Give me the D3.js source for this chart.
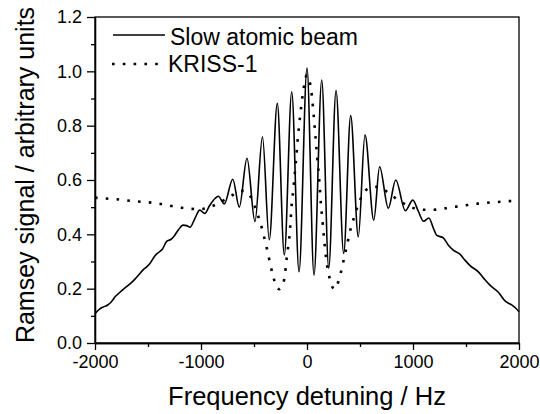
<!DOCTYPE html>
<html>
<head>
<meta charset="utf-8">
<script src="https://cdn.jsdelivr.net/npm/d3@7"></script>
<style>
  html, body { margin: 0; padding: 0; background: #fff; }
  svg { display: block; }
  text { font-family: "Liberation Sans", Arial, sans-serif; fill: #000; }
</style>
</head>
<body>
<svg id="chart" width="540" height="414"></svg>
<script>
// ---- data ----
const xTicks = [-2000, -1000, 0, 1000, 2000];
const xMinorTicks = [-1500, -500, 500, 1500];
const yTicks = [0, 0.2, 0.4, 0.6, 0.8, 1.0, 1.2];
const yMinorTicks = [0.1, 0.3, 0.5, 0.7, 0.9, 1.1];
const seriesNames = ["Slow atomic beam", "KRISS-1"];
const xTitle = "Frequency detuning / Hz";
const yTitle = "Ramsey signal / arbitrary units";

// Slow atomic beam: [detuning Hz, signal]
const slowBeam = [
  [-2000,0.108],[-1960,0.124],[-1920,0.133],[-1880,0.140],[-1845,0.152],[-1811,0.170],
  [-1770,0.185],[-1717,0.203],[-1670,0.218],[-1623,0.235],[-1585,0.252],[-1544,0.270],
  [-1510,0.281],[-1480,0.294],[-1434,0.321],[-1395,0.335],[-1365,0.345],[-1324,0.374],
  [-1285,0.381],[-1260,0.390],[-1214,0.416],[-1170,0.434],[-1135,0.432],[-1104,0.426],
  [-1057,0.459],[-1012,0.489],[-965,0.477],[-920,0.505],[-868,0.532],[-837,0.540],
  [-780,0.512],[-700,0.603],[-639,0.500],[-566,0.680],[-491,0.447],[-420,0.759],
  [-356,0.380],[-280,0.882],[-214,0.324],[-144,0.925],[-75,0.262],[0,1.012],
  [66,0.250],[139,0.968],[205,0.275],[274,0.929],[346,0.330],[412,0.837],
  [484,0.391],[547,0.766],[630,0.452],[685,0.649],[767,0.496],[837,0.600],
  [928,0.487],[998,0.526],[1050,0.485],[1100,0.448],[1150,0.460],[1190,0.425],
  [1225,0.396],[1286,0.387],[1330,0.362],[1380,0.342],[1443,0.327],[1490,0.305],
  [1538,0.285],[1616,0.262],[1670,0.237],[1726,0.213],[1805,0.187],[1868,0.155],
  [1931,0.140],[1970,0.128],[2000,0.115]
];

// KRISS-1: [detuning Hz, signal]
const kriss1 = [
  [-2000,0.535],[-1900,0.532],[-1800,0.529],[-1700,0.525],[-1600,0.521],[-1500,0.518],
  [-1400,0.513],[-1300,0.506],[-1200,0.499],[-1100,0.494],[-1000,0.493],[-900,0.503],
  [-800,0.522],[-700,0.545],[-650,0.558],[-600,0.560],[-560,0.552],[-520,0.530],
  [-490,0.500],[-465,0.472],[-437,0.439],[-412,0.401],[-387,0.362],[-365,0.324],
  [-344,0.285],[-318,0.244],[-288,0.207],[-260,0.198],[-233,0.213],[-208,0.250],
  [-198,0.291],[-186,0.330],[-173,0.369],[-162,0.407],[-156,0.444],[-149,0.483],
  [-142,0.520],[-130,0.560],[-120,0.605],[-110,0.645],[-100,0.690],[-90,0.738],
  [-78,0.788],[-65,0.835],[-52,0.878],[-38,0.920],[-22,0.958],[-5,0.985],
  [8,0.984],[25,0.962],[38,0.934],[50,0.894],[60,0.851],[70,0.808],
  [80,0.759],[90,0.712],[100,0.667],[112,0.618],[122,0.565],[132,0.508],
  [142,0.467],[151,0.428],[160,0.389],[170,0.349],[180,0.312],[195,0.272],
  [217,0.234],[258,0.198],[302,0.234],[327,0.272],[350,0.312],[371,0.349],
  [393,0.388],[415,0.426],[446,0.465],[478,0.504],[524,0.545],[578,0.569],
  [673,0.575],[767,0.553],[861,0.526],[956,0.505],[1050,0.492],[1160,0.490],
  [1255,0.492],[1358,0.500],[1459,0.504],[1554,0.511],[1648,0.514],[1742,0.518],
  [1837,0.520],[1931,0.523],[2000,0.525]
];

// ---- drawing ----
const svg = d3.select("#chart");
const L = 95, R = 519, T = 17, B = 343;
const FONT = '"Liberation Sans", Arial, sans-serif';

const x = d3.scaleLinear().domain([-2000, 2000]).range([L, R]);
const y = d3.scaleLinear().domain([0, 1.2]).range([B, T]);

// frame (top & right lines)
svg.append("rect")
  .attr("x", L).attr("y", T).attr("width", R - L).attr("height", B - T)
  .attr("fill", "none").attr("stroke", "#000").attr("stroke-width", 1.3);

// x axis
const gx = svg.append("g").attr("transform", `translate(0,${B})`)
  .call(d3.axisBottom(x).tickValues(xTicks).tickSize(7).tickSizeOuter(0)
    .tickPadding(5).tickFormat(d => String(d)));
svg.append("g").attr("transform", `translate(0,${B})`)
  .call(d3.axisBottom(x).tickValues(xMinorTicks).tickSize(4).tickSizeOuter(0).tickFormat(""));

// y axis
const gy = svg.append("g").attr("transform", `translate(${L},0)`)
  .call(d3.axisLeft(y).tickValues(yTicks).tickSize(8).tickSizeOuter(0)
    .tickPadding(5).tickFormat(d3.format(".1f")));
svg.append("g").attr("transform", `translate(${L},0)`)
  .call(d3.axisLeft(y).tickValues(yMinorTicks).tickSize(4).tickSizeOuter(0).tickFormat(""));

svg.selectAll(".domain").attr("stroke", "#000").attr("stroke-width", 1.3);
svg.selectAll(".tick line").attr("stroke", "#000").attr("stroke-width", 1.3);
svg.selectAll(".tick text").attr("font-size", 18).attr("font-family", FONT).attr("fill", "#000");

// series
const line = d3.line().x(d => x(d[0])).y(d => y(d[1])).curve(d3.curveMonotoneX);

svg.append("path").datum(kriss1)
  .attr("d", line).attr("fill", "none").attr("stroke", "#000")
  .attr("stroke-width", 2.6).attr("stroke-dasharray", "2.6 8.2");

svg.append("path").datum(slowBeam)
  .attr("d", line).attr("fill", "none").attr("stroke", "#000")
  .attr("stroke-width", 1.6).attr("stroke-linejoin", "round");

// legend
const leg = svg.append("g");
leg.append("line").attr("x1", 113).attr("x2", 165).attr("y1", 35).attr("y2", 35)
  .attr("stroke", "#000").attr("stroke-width", 1.6);
leg.append("line").attr("x1", 112).attr("x2", 160).attr("y1", 64).attr("y2", 64)
  .attr("stroke", "#000").attr("stroke-width", 2.6).attr("stroke-dasharray", "2.6 8.2");
leg.append("text").attr("x", 170).attr("y", 45).attr("font-size", 23).text(seriesNames[0]);
leg.append("text").attr("x", 168).attr("y", 72).attr("font-size", 23).text(seriesNames[1]);

// axis titles
svg.append("text").attr("x", (L + R) / 2).attr("y", 405)
  .attr("text-anchor", "middle").attr("font-size", 25.5).text(xTitle);
svg.append("text").attr("transform", "translate(34,175) rotate(-90)")
  .attr("text-anchor", "middle").attr("font-size", 25).text(yTitle);
</script>
</body>
</html>
